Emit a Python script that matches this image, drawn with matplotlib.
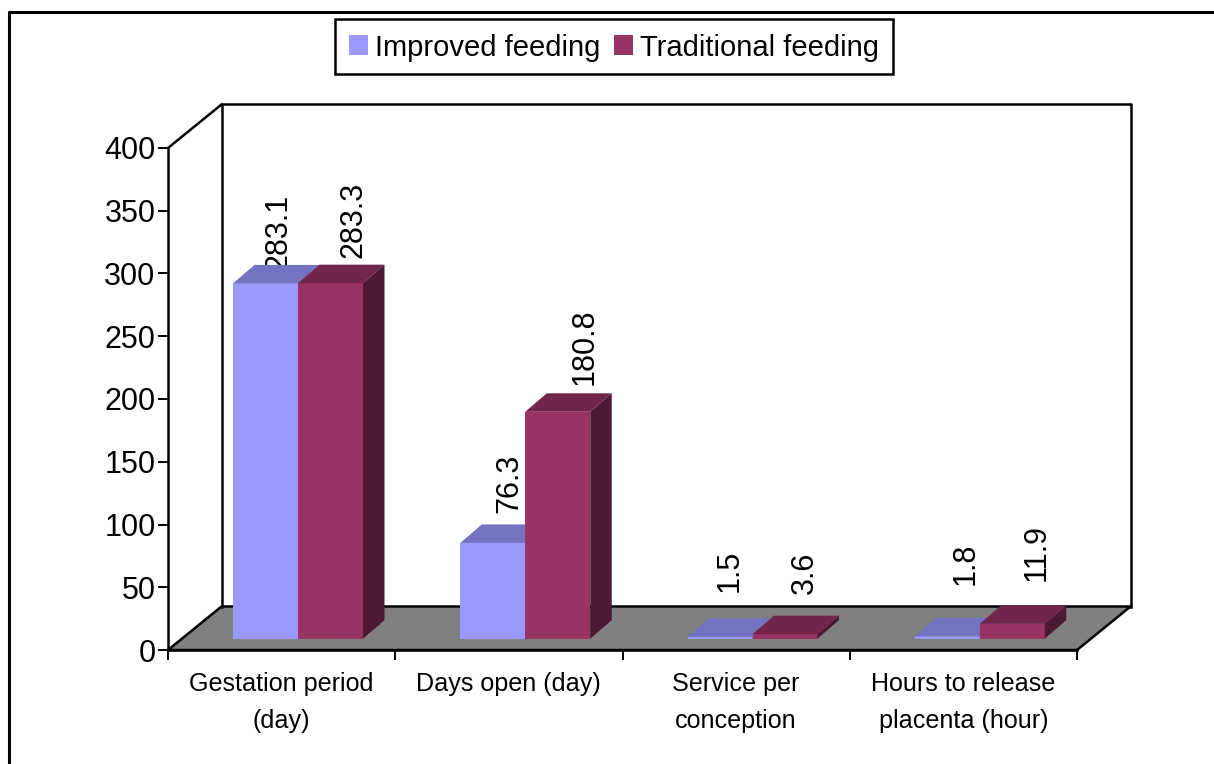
import matplotlib
matplotlib.use('Agg')
import matplotlib.pyplot as plt
from matplotlib.lines import Line2D
from matplotlib.patches import Patch, Polygon, Rectangle

categories = ['Gestation period\n(day)', 'Days open (day)', 'Service per\nconception',
              'Hours to release\nplacenta (hour)']
improved = [283.1, 76.3, 1.5, 1.8]
traditional = [283.3, 180.8, 3.6, 11.9]
y_ticks = [0, 50, 100, 150, 200, 250, 300, 350, 400]

# label nudges in pixels, from the bar centre and the back edge of the bar top
improved_dx = [13.5, 16.3, 10, 18]
improved_dy = [-5, 11.4, 26.3, 32.9]
traditional_dx = [23, 27, 19.6, 24.4]
traditional_dy = [6.6, 8.3, 21.7, 24.3]

W, H = 1214, 764
X0, X1 = 168, 1077     # front plane in pixels
Y0, Y400 = 650, 148
PX = 4 / (X1 - X0)     # one pixel in x data units
PY = 400 / (Y0 - Y400)  # one pixel in y data units

plt.rcParams['font.family'] = ['Liberation Sans', 'DejaVu Sans']

fig = plt.figure(figsize=(W / 100, H / 100), dpi=100)
ax = fig.add_axes([X0 / W, 1 - Y0 / H, (X1 - X0) / W, (Y0 - Y400) / H])
ax.set_xlim(0, 4)
ax.set_ylim(0, 400)
ax.patch.set_visible(False)

LW = 1.8
wall_dx = 53.5 * PX
wall_dy = 43.5 * PY

# floor and walls
ax.add_patch(Polygon([(0, 0), (4, 0), (4 + wall_dx, wall_dy), (wall_dx, wall_dy)], fc='#808080', ec='black',
                     lw=LW, clip_on=False, zorder=1))
ax.plot([wall_dx, wall_dx, 4 + wall_dx, 4 + wall_dx], [wall_dy, 400 + wall_dy, 400 + wall_dy, wall_dy],
        color='black', lw=LW, clip_on=False, zorder=1)
ax.plot([0, wall_dx], [400, 400 + wall_dy], color='black', lw=LW, clip_on=False, zorder=1)

# bars
base = (Y0 - 638.7) * PY
bar_w = 65 * PX
gap = 65 * PX
depth_dx = 21.5 * PX
depth_dy = 18.5 * PY


def draw_bar(left, value, front, top, side, z):
    right = left + bar_w
    y = base + value
    ax.bar(left, value, bar_w, bottom=base, align='edge', color=front, zorder=z, clip_on=False)
    ax.add_patch(Polygon([(left, y), (right, y), (right + depth_dx, y + depth_dy), (left + depth_dx, y + depth_dy)],
                         fc=top, ec='none', clip_on=False, zorder=z))
    ax.add_patch(Polygon([(right, base), (right + depth_dx, base + depth_dy), (right + depth_dx, y + depth_dy),
                          (right, y)], fc=side, ec='none', clip_on=False, zorder=z))


def draw_label(center, value, dx, dy):
    # zorder 2 keeps the 283.1 label tucked behind its bar like the original
    ax.text(center + dx * PX, base + value + depth_dy + dy * PY, str(value), rotation=90,
            ha='center', va='bottom', fontsize=22, zorder=2, clip_on=False)


for i in range(len(categories)):
    left = i + gap
    draw_bar(left, improved[i], '#9999FF', '#7373BF', '#4C4C7F', 3)
    draw_bar(left + bar_w, traditional[i], '#993366', '#73264C', '#4C1933', 4)
    draw_label(left + bar_w / 2, improved[i], improved_dx[i], improved_dy[i])
    draw_label(left + 1.5 * bar_w, traditional[i], traditional_dx[i], traditional_dy[i])

# axes
for s in ['top', 'right']:
    ax.spines[s].set_visible(False)
for s in ['left', 'bottom']:
    ax.spines[s].set_linewidth(LW)
    ax.spines[s].set_zorder(2)
ax.set_yticks(y_ticks)
ax.tick_params(axis='y', direction='out', length=7, width=1.4, labelsize=22, pad=2)
ax.set_xticks(range(5))
ax.set_xticklabels([])
ax.tick_params(axis='x', which='major', direction='out', length=7, width=1.4)
ax.set_xticks([i + 0.5 for i in range(4)], minor=True)
ax.set_xticklabels(categories, minor=True, fontsize=18.1, linespacing=1.65)
ax.tick_params(axis='x', which='minor', length=0, pad=16)

# outer frame, open at the right and the bottom
fig.add_artist(Line2D([8.5 / W, 8.5 / W, 1], [0, 1 - 11.5 / H, 1 - 11.5 / H], transform=fig.transFigure,
                      color='black', lw=2.2))

# legend, its box is separate because the entries sit a bit below its centre
fig.add_artist(Rectangle((335 / W, 1 - 74 / H), 558 / W, 55 / H, transform=fig.transFigure, fc='white',
                         ec='black', lw=LW))
handles = [Patch(fc='#9999FF', ec='none', label='Improved feeding'),
           Patch(fc='#993366', ec='none', label='Traditional feeding')]
fig.legend(handles=handles, loc='center', bbox_to_anchor=(614 / W, 1 - 47.5 / H), ncol=2, fontsize=21,
           frameon=False, handlelength=0.67, handleheight=0.67,
           handletextpad=0.24, columnspacing=0.45, borderpad=0.47, borderaxespad=0)

fig.savefig('out.png', dpi=100)
